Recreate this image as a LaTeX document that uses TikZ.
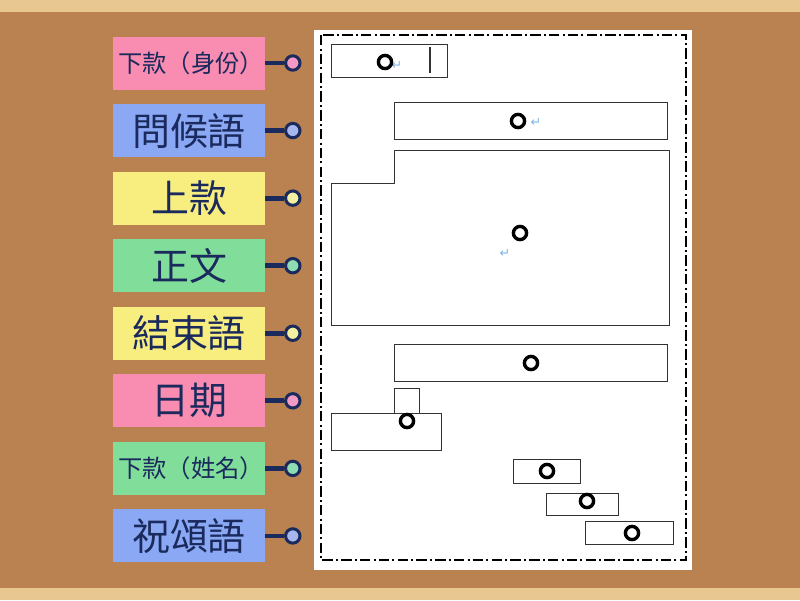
\documentclass[tikz,border=0pt]{standalone}
\usepackage{fontspec}
\usepackage{xcolor}
\usepackage{tikz}
\usetikzlibrary{positioning}
\newfontfamily\cjk{Noto Sans CJK TC}
\newfontfamily\symb{DejaVu Sans}
\definecolor{cork}{HTML}{BA8250}
\definecolor{wood}{HTML}{E8C890}
\definecolor{navy}{HTML}{1B2A5C}
\definecolor{notepink}{HTML}{F98CB1}
\definecolor{noteblue}{HTML}{8BA8F5}
\definecolor{noteyellow}{HTML}{F7EE7F}
\definecolor{notegreen}{HTML}{80DE9A}
\definecolor{tackpink}{HTML}{F29AC6}
\definecolor{tackblue}{HTML}{A7B6EC}
\definecolor{tackyellow}{HTML}{F4F0A2}
\definecolor{tackgreen}{HTML}{8EDDB2}
\definecolor{slotline}{HTML}{333333}
\definecolor{enter}{HTML}{7FB2E8}
\tikzset{
  note/.style={fill=#1, minimum width=38mm, minimum height=13.25mm, inner sep=0pt,
    text=navy, font=\cjk\fontsize{27}{32}\selectfont},
  notesmall/.style={font=\cjk\fontsize{17.3}{21}\selectfont, xshift=0.5mm},
  tack/.style={circle, draw=navy, line width=0.75mm, fill=#1, minimum size=3.6mm, inner sep=0pt},
  stem/.style={draw=navy, line width=1.2mm},
  slot/.style={draw=slotline, line width=0.25mm},
  ring/.style={circle, draw=black, line width=0.85mm, minimum size=3.3mm, inner sep=0pt},
  enterm/.style={text=enter, font=\symb\fontsize{9}{10}\selectfont, inner sep=0pt},
  border/.style={draw=black, line width=0.5mm, dash pattern=on 2.6mm off 0.8mm on 0.5mm off 0.8mm}
}
\begin{document}
\begin{tikzpicture}[x=0.25mm,y=-0.25mm, node distance=3.5mm]
  \useasboundingbox (0,0) rectangle (800,600);
  % board
  \fill[cork] (0,0) rectangle (800,600);
  \fill[wood] (0,0) rectangle (800,12);
  \fill[wood] (0,588) rectangle (800,600);

  % labels
  \node[note=notepink] (shenfen) at (189,63) {};
  \node[note=noteblue, below=of shenfen] (wenhou) {問候語};
  \node[note=noteyellow, below=of wenhou] (shangkuan) {上款};
  \node[note=notegreen, below=of shangkuan] (zhengwen) {正文};
  \node[note=noteyellow, below=of zhengwen] (jieshu) {結束語};
  \node[note=notepink, below=of jieshu] (riqi) {日期};
  \node[note=notegreen, below=of riqi] (xingming) {};
  \node[note=noteblue, below=of xingming] (zhusong) {祝頌語};
  \node[notesmall, text=navy] (shenfenL) at (shenfen) {下款（身份）};
  \node[notesmall, text=navy] (xingmingL) at (xingming) {下款（姓名）};

  % tacks
  \node[tack=tackpink, right=4.7mm of shenfen] (shenfenT) {};
  \node[tack=tackblue, right=4.7mm of wenhou] (wenhouT) {};
  \node[tack=tackyellow, right=4.7mm of shangkuan] (shangkuanT) {};
  \node[tack=tackgreen, right=4.7mm of zhengwen] (zhengwenT) {};
  \node[tack=tackyellow, right=4.7mm of jieshu] (jieshuT) {};
  \node[tack=tackpink, right=4.7mm of riqi] (riqiT) {};
  \node[tack=tackgreen, right=4.7mm of xingming] (xingmingT) {};
  \node[tack=tackblue, right=4.7mm of zhusong] (zhusongT) {};
  \draw[stem] (shenfen) -- (shenfenT);
  \draw[stem] (wenhou) -- (wenhouT);
  \draw[stem] (shangkuan) -- (shangkuanT);
  \draw[stem] (zhengwen) -- (zhengwenT);
  \draw[stem] (jieshu) -- (jieshuT);
  \draw[stem] (riqi) -- (riqiT);
  \draw[stem] (xingming) -- (xingmingT);
  \draw[stem] (zhusong) -- (zhusongT);

  % letter sheet
  \fill[white] (314,30) rectangle (692,570);
  \draw[border] (321,35) rectangle (686,560);

  \draw[slot] (331,44) rectangle (447,77);
  \draw[slotline, line width=0.5mm] (430,47) -- (430,73);
  \draw[slot] (394,102) rectangle (667,139);
  \draw[slot] (394,150) -- (669,150) -- (669,325) -- (331,325) -- (331,183) -- (394,183) -- cycle;
  \draw[slot] (394,344) rectangle (667,381);
  \draw[slot] (394,388) rectangle (419,413);
  \draw[slot] (331,413) rectangle (441,450);
  \draw[slot] (513,459) rectangle (580,483);
  \draw[slot] (546,493) rectangle (618,515);
  \draw[slot] (585,521) rectangle (673,544);

  \node[enterm] (enterA) at (397,66) {↵};
  \node[enterm] (enterB) at (536,123) {↵};
  \node[enterm] (enterC) at (505,254) {↵};

  \node[ring] (ringA) at (385,62) {};
  \node[ring] (ringB) at (518,121) {};
  \node[ring] (ringC) at (520,233) {};
  \node[ring] (ringD) at (531,363) {};
  \node[ring] (ringE) at (407,421) {};
  \node[ring] (ringF) at (547,471) {};
  \node[ring] (ringG) at (587,501) {};
  \node[ring] (ringH) at (632,533) {};
\end{tikzpicture}
\end{document}
